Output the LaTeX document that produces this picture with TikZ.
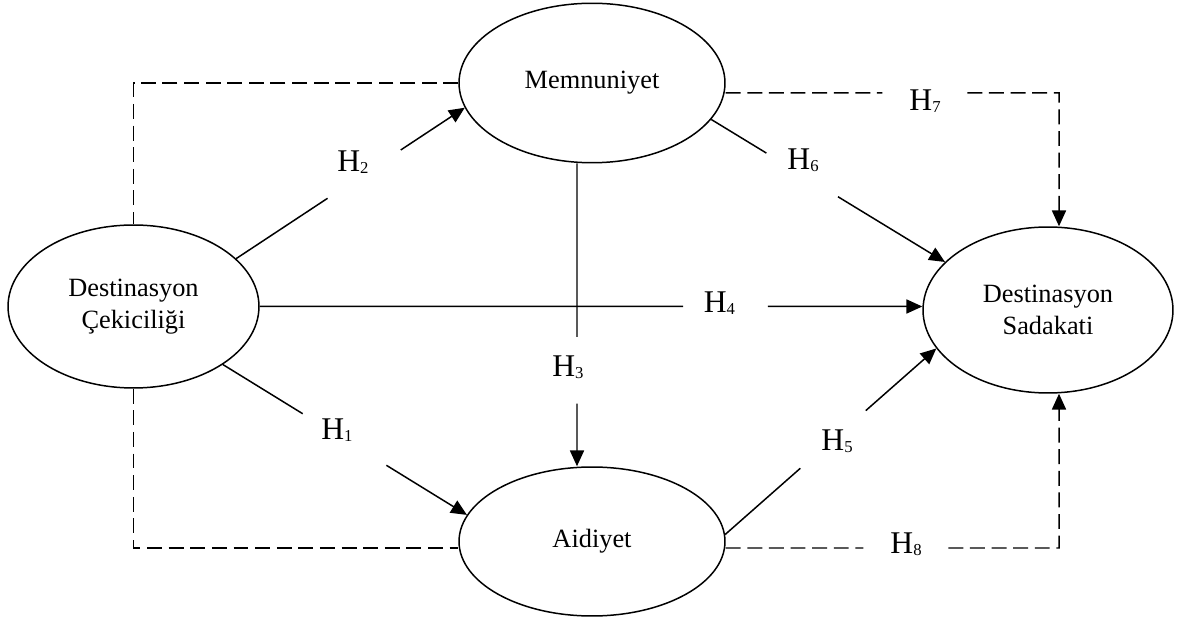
\documentclass[tikz,border=0pt]{standalone}
\usepackage{fontspec}
\setmainfont{Liberation Serif}
\usetikzlibrary{shapes.geometric,arrows.meta,calc}

% hypothesis label: H with a small lowered index
\newcommand{\hyp}[1]{H\raisebox{-1pt}{\fontsize{9.5}{10}\selectfont #1}}

\tikzset{
  latent/.style={draw, ellipse, line width=0.85pt, inner sep=0pt,
    align=center, font=\fontsize{15}{18}\selectfont},
  link/.style={line width=0.85pt},
  tipped/.style={-{Triangle[length=9pt,width=8pt]}},
  dashlink/.style={link, dash pattern=on 8.5pt off 3.8pt},
  hlabel/.style={inner sep=0pt, font=\fontsize{18}{20}\selectfont}
}

\begin{document}
\begin{tikzpicture}[x=0.02cm, y=-0.02cm]
\useasboundingbox (0,0) rectangle (1178,621);

% constructs
\node[latent, minimum width=5.32cm, minimum height=3.19cm] (mem) at (592,83) {Memnuniyet};
\node[latent, minimum width=5.02cm, minimum height=3.26cm] (cek) at (133.5,306.5) {Destinasyon\\Çekiciliği};
\node[latent, minimum width=5.0cm, minimum height=3.32cm] (sad) at (1048,310) {Destinasyon\\Sadakati};
\node[latent, minimum width=5.32cm, minimum height=2.98cm] (aid) at (592,541.5) {Aidiyet};

% H1: attraction -> belonging
\draw[link] (cek.-33) -- ($(cek.-33)!0.327!(aid.168)$);
\draw[link,tipped] ($(cek.-33)!0.67!(aid.168)$) -- (aid.168);
\node[hlabel] (h1) at (337,430) {\hyp{1}};

% H2: attraction -> satisfaction
\draw[link] (cek.25) -- ($(cek.25)!0.40!(mem.191)$);
\draw[link,tipped] ($(cek.25)!0.72!(mem.191)$) -- (mem.191);
\node[hlabel] (h2) at (353,162) {\hyp{2}};

% H3: satisfaction -> belonging
\coordinate (m3) at ($(mem.south)+(-15,0)$);
\coordinate (a3) at ($(aid.north)+(-15,0)$);
\draw[link] (m3) -- ($(m3)!0.573!(a3)$);
\draw[link,tipped] ($(m3)!0.793!(a3)$) -- (a3);
\node[hlabel] (h3) at (568,367) {\hyp{3}};

% H4: attraction -> loyalty
\coordinate (s4) at (cek.east -| sad.west);
\draw[link] (cek.east) -- ($(cek.east)!0.639!(s4)$);
\draw[link,tipped] ($(cek.east)!0.767!(s4)$) -- (s4);
\node[hlabel] (h4) at (719.5,303) {\hyp{4}};

% H5: belonging -> loyalty
\draw[link] (aid.3) -- ($(aid.3)!0.356!(sad.199)$);
\draw[link,tipped] ($(aid.3)!0.666!(sad.199)$) -- (sad.199);
\node[hlabel] (h5) at (837,441) {\hyp{5}};

% H6: satisfaction -> loyalty
\draw[link] (mem.-17) -- ($(mem.-17)!0.236!(sad.155)$);
\draw[link,tipped] ($(mem.-17)!0.542!(sad.155)$) -- (sad.155);
\node[hlabel] (h6) at (803,160) {\hyp{6}};

% H7: mediated path through satisfaction
\coordinate (m7) at ($(mem.east)+(0,10)$);
\coordinate (s7) at ($(sad.north)+(11,0)$);
\draw[dashlink] (m7) -- ($(m7)!0.47!(m7 -| s7)$);
\draw[dashlink,tipped] ($(m7)!0.725!(m7 -| s7)$) -- (m7 -| s7) -- (s7);
\node[hlabel] (h7) at (925,101) {\hyp{7}};

% H8: mediated path through belonging
\coordinate (m8) at ($(aid.east)+(0,6.5)$);
\coordinate (s8) at ($(sad.south)+(11,0)$);
\draw[dashlink] (m8) -- ($(m8)!0.413!(m8 -| s8)$);
\draw[dashlink,tipped] ($(m8)!0.668!(m8 -| s8)$) -- (m8 -| s8) -- (s8);
\node[hlabel] (h8) at (906,544) {\hyp{8}};

% dashed links on the left
\draw[dashlink] (mem.west) -| (cek.north);
\draw[dashlink] (cek.south) |- ($(aid.west)+(0,6.5)$);
\end{tikzpicture}
\end{document}
